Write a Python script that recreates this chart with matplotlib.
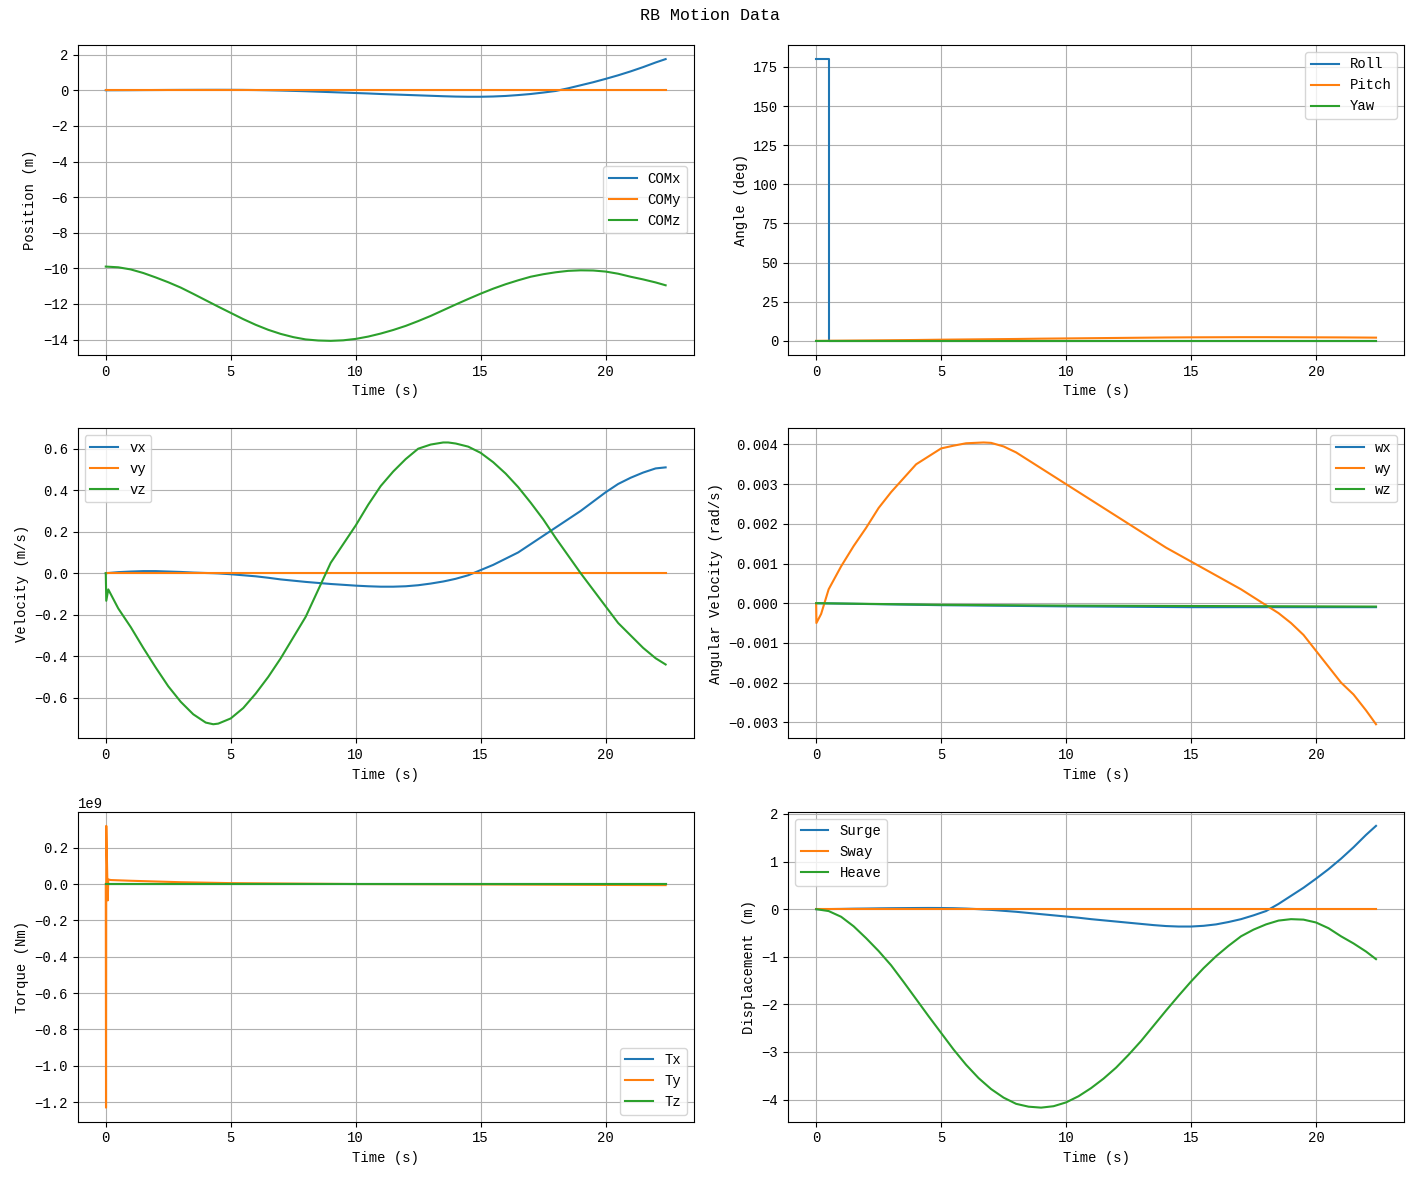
import numpy as np
import matplotlib.pyplot as plt

plt.rcParams['font.family'] = ['Liberation Mono', 'DejaVu Sans Mono']
plt.rcParams['font.size'] = 10

# half-second time base (s) for positions / displacements
t_p = [0, 0.5, 1, 1.5, 2, 2.5, 3, 3.5, 4, 4.5, 5, 5.5, 6, 6.5, 7, 7.5, 8, 8.5, 9, 9.5, 10, 10.5, 11, 11.5,
       12, 12.5, 13, 13.5, 14, 14.5, 15, 15.5, 16, 16.5, 17, 17.5, 18, 18.5, 19, 19.5, 20, 20.5, 21, 21.5,
       22, 22.4]

# position of the COM (m)
com_x = [0, 0.002, 0.005, 0.01, 0.013, 0.017, 0.02, 0.022, 0.024, 0.025, 0.024, 0.02, 0.012, 0.0, -0.015,
         -0.035, -0.055, -0.08, -0.105, -0.13, -0.155, -0.18, -0.21, -0.235, -0.26, -0.285, -0.31, -0.335,
         -0.355, -0.365, -0.365, -0.35, -0.32, -0.27, -0.21, -0.13, -0.04, 0.11, 0.28, 0.45, 0.64, 0.84,
         1.06, 1.3, 1.56, 1.75]
com_y = [0] * len(t_p)
com_z = [-9.9, -9.94, -10.06, -10.26, -10.51, -10.78, -11.08, -11.43, -11.79, -12.15, -12.5, -12.85,
         -13.17, -13.45, -13.68, -13.86, -13.99, -14.05, -14.07, -14.04, -13.96, -13.83, -13.66, -13.46,
         -13.23, -12.96, -12.67, -12.35, -12.03, -11.72, -11.42, -11.14, -10.89, -10.67, -10.47, -10.33,
         -10.22, -10.14, -10.11, -10.12, -10.18, -10.3, -10.47, -10.62, -10.79, -10.95]

# angles (deg)
t_ang = [0, 1, 2, 3, 4, 5, 6, 7, 8, 9, 10, 11, 12, 13, 14, 15, 16, 17, 18, 19, 20, 21, 22, 22.4]
t_roll = [0, 0.5, 0.5, 22.4]
roll = [180, 180, 0, 0]
pitch = [0, 0.12, 0.25, 0.4, 0.55, 0.75, 0.9, 1.05, 1.2, 1.4, 1.55, 1.7, 1.85, 2.0, 2.15, 2.25, 2.3, 2.35,
         2.35, 2.3, 2.25, 2.2, 2.1, 2.05]
yaw = [0] * len(t_ang)

# linear velocity (m/s)
t_v = [0, 0.02, 0.1, 0.5, 1, 1.5, 2, 2.5, 3, 3.5, 4, 4.3, 4.5, 5, 5.5, 6, 6.5, 7, 7.5, 8, 8.5, 9, 9.5, 10,
       10.5, 11, 11.5, 12, 12.5, 13, 13.5, 13.7, 14, 14.5, 15, 15.5, 16, 16.5, 17, 17.5, 18, 18.5, 19,
       19.5, 20, 20.5, 21, 21.5, 22, 22.4]
vx = [0, 0, 0.001, 0.005, 0.008, 0.01, 0.01, 0.008, 0.006, 0.003, 0.001, 0, -0.001, -0.005, -0.01, -0.015,
      -0.022, -0.03, -0.036, -0.042, -0.047, -0.052, -0.056, -0.06, -0.063, -0.065, -0.065, -0.063, -0.058,
      -0.05, -0.04, -0.035, -0.027, -0.01, 0.015, 0.04, 0.07, 0.1, 0.14, 0.18, 0.22, 0.26, 0.3, 0.345,
      0.39, 0.43, 0.46, 0.485, 0.505, 0.51]
vy = [0] * len(t_v)
vz = [0, -0.133, -0.078, -0.17, -0.26, -0.36, -0.455, -0.545, -0.62, -0.68, -0.72, -0.728, -0.725, -0.7,
      -0.65, -0.58, -0.5, -0.41, -0.31, -0.21, -0.08, 0.05, 0.14, 0.23, 0.33, 0.42, 0.49, 0.55, 0.6, 0.62,
      0.63, 0.63, 0.625, 0.61, 0.58, 0.535, 0.48, 0.415, 0.34, 0.26, 0.17, 0.085, 0.0, -0.08, -0.16, -0.24,
      -0.3, -0.36, -0.41, -0.44]

# angular velocity (rad/s)
t_wy = [0, 0.01, 0.2, 0.5, 1, 1.5, 2, 2.5, 3, 3.5, 4, 4.5, 5, 5.5, 6, 6.7, 7, 7.5, 8, 9, 10, 11, 12, 13,
        14, 15, 16, 17, 18, 18.5, 19, 19.5, 20, 20.5, 21, 21.5, 22, 22.4]
wy = [0, -0.0005, -0.00027, 0.00035, 0.00093, 0.00144, 0.0019, 0.0024, 0.0028, 0.00315, 0.0035, 0.0037,
      0.0039, 0.00397, 0.00403, 0.00405, 0.00404, 0.00395, 0.0038, 0.0034, 0.003, 0.0026, 0.0022, 0.0018,
      0.0014, 0.00105, 0.0007, 0.00035, -0.00005, -0.00025, -0.0005, -0.0008, -0.0012, -0.0016, -0.002,
      -0.0023, -0.0027, -0.00305]
t_wxz = [0, 5, 10, 15, 20, 22.4]
wx = [0, -0.00005, -0.00008, -0.0001, -0.0001, -0.0001]
wz = [0, -0.00004, -0.00006, -0.00007, -0.00008, -0.000085]

# torque (Nm)
t_T = [0, 0.01, 0.02, 0.06, 0.08, 0.1, 0.2, 1, 3, 5, 10, 15, 20, 22.4]
Tx = [0] * len(t_T)
Ty = [0, -1.23e9, 0.32e9, 0.04e9, -0.09e9, 0.025e9, 0.022e9, 0.018e9, 0.01e9, 0.005e9, 0.0, -0.002e9,
      -0.005e9, -0.006e9]
Tz = [0] * len(t_T)

# displacement from start (m)
surge = com_x
sway = com_y
heave = [0, -0.04, -0.16, -0.36, -0.61, -0.88, -1.18, -1.53, -1.89, -2.25, -2.6, -2.95, -3.27, -3.55,
         -3.78, -3.96, -4.09, -4.15, -4.17, -4.14, -4.06, -3.93, -3.76, -3.56, -3.33, -3.06, -2.77, -2.45,
         -2.13, -1.82, -1.52, -1.24, -0.99, -0.77, -0.57, -0.43, -0.32, -0.24, -0.21, -0.22, -0.28, -0.4,
         -0.57, -0.72, -0.89, -1.05]

fig, axs = plt.subplots(3, 2, figsize=(14.19, 11.8), dpi=100)
fig.suptitle("RB Motion Data", y=0.993)

ax = axs[0, 0]
ax.plot(t_p, com_x, label="COMx")
ax.plot(t_p, com_y, label="COMy")
ax.plot(t_p, com_z, label="COMz")
ax.set_ylabel("Position (m)")
ax.legend(loc="center right")

ax = axs[0, 1]
ax.plot(t_roll, roll, label="Roll")
ax.plot(t_ang, pitch, label="Pitch")
ax.plot(t_ang, yaw, label="Yaw")
ax.set_ylabel("Angle (deg)")
ax.legend(loc="upper right")

ax = axs[1, 0]
ax.plot(t_v, vx, label="vx")
ax.plot(t_v, vy, label="vy")
ax.plot(t_v, vz, label="vz")
ax.set_ylabel("Velocity (m/s)")
ax.legend(loc="upper left")

ax = axs[1, 1]
ax.plot(t_wxz, wx, label="wx")
ax.plot(t_wy, wy, label="wy")
ax.plot(t_wxz, wz, label="wz")
ax.set_ylabel("Angular Velocity (rad/s)")
ax.legend(loc="upper right")

ax = axs[2, 0]
ax.plot(t_T, Tx, label="Tx")
ax.plot(t_T, Ty, label="Ty")
ax.plot(t_T, Tz, label="Tz")
ax.set_ylabel("Torque (Nm)")
ax.legend(loc="lower right")

ax = axs[2, 1]
ax.plot(t_p, surge, label="Surge")
ax.plot(t_p, sway, label="Sway")
ax.plot(t_p, heave, label="Heave")
ax.set_ylabel("Displacement (m)")
ax.legend(loc="upper left")

for a in axs.flat:
    a.set_xlabel("Time (s)")
    a.grid(True)

plt.tight_layout()
plt.savefig("out.png")
